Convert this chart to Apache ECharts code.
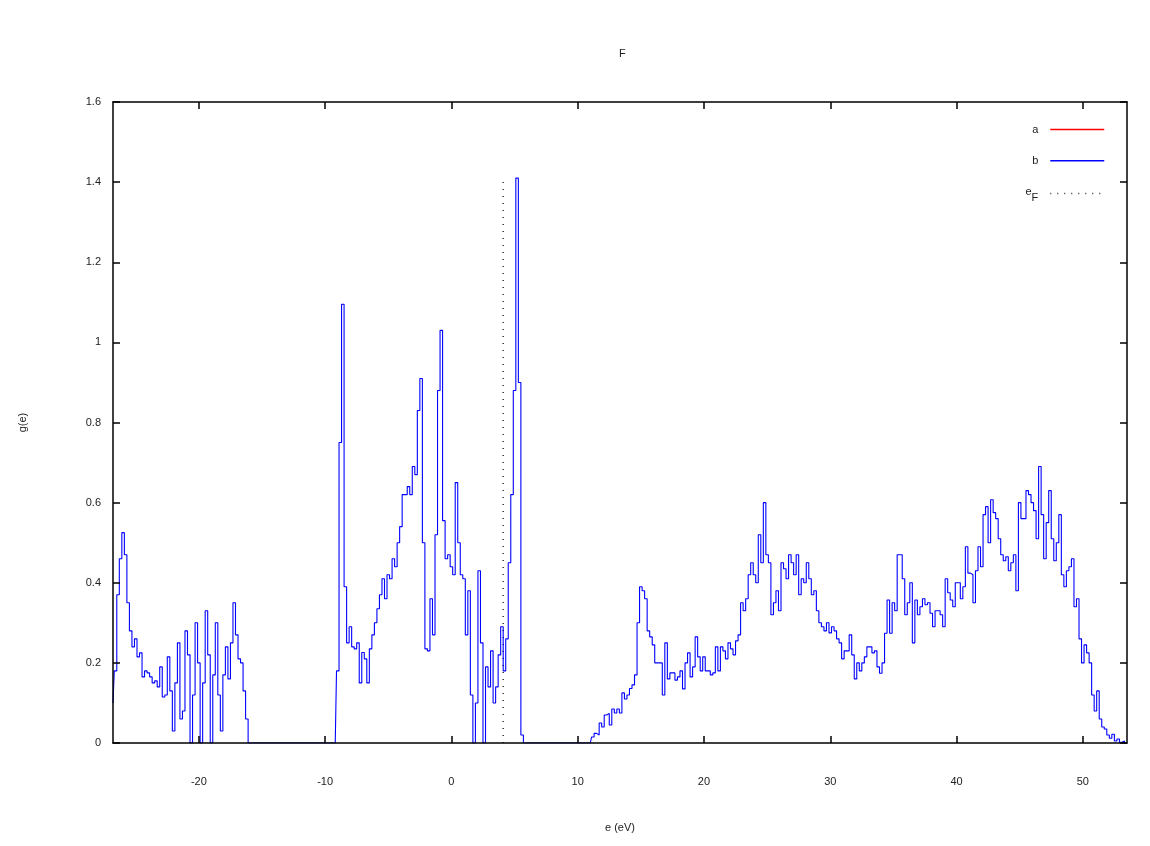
<!DOCTYPE html>
<html>
<head>
<meta charset="utf-8">
<script src="https://cdn.jsdelivr.net/npm/echarts@6/dist/echarts.min.js"></script>
<style>
  html, body { margin: 0; padding: 0; background: #fff; }
  #chart { width: 1150px; height: 846px; }
</style>
</head>
<body>
<div id="chart"></div>
<script>
// ---- data ----
const eStep = 0.2;               // energy grid step (eV)
const band1Start = -26.8;        // lowest band
const band1 = [0.10,0.18,0.37,0.46,0.525,0.47,0.35,0.28,0.24,0.26,
  0.215,0.225,0.165,0.18,0.175,0.165,0.15,0.155,0.14,0.19,
  0.115,0.12,0.215,0.13,0.03,0.15,0.25,0.06,0.08,0.28,
  0.22,0.0,0.12,0.30,0.20,0.0,0.15,0.33,0.22,0.0,
  0.17,0.30,0.12,0.03,0.17,0.24,0.16,0.25,0.35,0.27,
  0.21,0.20,0.13,0.06,0.0];
const band2Start = -9.2;         // valence band
const band2 = [0.0,0.18,0.75,1.095,0.39,0.25,0.29,0.24,0.235,0.25,
  0.15,0.226,0.21,0.15,0.235,0.27,0.30,0.335,0.37,0.41,
  0.36,0.42,0.41,0.46,0.44,0.50,0.54,0.62,0.62,0.64,
  0.62,0.69,0.67,0.83,0.91,0.50,0.235,0.23,0.36,0.27,
  0.52,0.88,1.03,0.555,0.46,0.47,0.44,0.42,0.65,0.50,
  0.42,0.41,0.27,0.38,0.12,0.0,0.10,0.43,0.25,0.0,
  0.19,0.14,0.23,0.10,0.14,0.22,0.29,0.18,0.26,0.45,
  0.62,0.88,1.41,0.90,0.02,0.0];
const band3Start = 10.8;         // conduction band
const band3 = [0.0,0.0,0.015,0.024,0.02,0.05,0.04,0.07,0.074,0.045,
  0.085,0.075,0.085,0.075,0.125,0.11,0.12,0.136,0.145,0.17,
  0.30,0.39,0.38,0.36,0.28,0.265,0.245,0.20,0.20,0.20,
  0.12,0.25,0.16,0.175,0.175,0.157,0.165,0.18,0.135,0.20,
  0.225,0.165,0.19,0.265,0.215,0.18,0.215,0.18,0.18,0.17,
  0.175,0.24,0.18,0.24,0.23,0.21,0.25,0.235,0.22,0.255,
  0.27,0.35,0.33,0.36,0.42,0.45,0.42,0.40,0.52,0.45,
  0.60,0.47,0.45,0.32,0.35,0.38,0.33,0.45,0.435,0.41,
  0.47,0.45,0.42,0.47,0.37,0.41,0.40,0.45,0.41,0.37,
  0.38,0.33,0.30,0.29,0.28,0.30,0.275,0.29,0.28,0.26,
  0.25,0.21,0.23,0.23,0.27,0.22,0.16,0.20,0.18,0.20,
  0.215,0.24,0.24,0.225,0.23,0.19,0.174,0.20,0.274,0.357,
  0.274,0.35,0.33,0.47,0.47,0.41,0.32,0.35,0.40,0.25,
  0.357,0.32,0.34,0.36,0.345,0.35,0.324,0.29,0.33,0.33,
  0.32,0.29,0.41,0.375,0.357,0.34,0.40,0.40,0.36,0.39,
  0.49,0.424,0.42,0.35,0.43,0.49,0.44,0.57,0.59,0.50,
  0.607,0.575,0.56,0.51,0.47,0.455,0.465,0.43,0.45,0.47,
  0.38,0.60,0.56,0.56,0.63,0.62,0.60,0.58,0.51,0.69,
  0.57,0.46,0.55,0.63,0.51,0.455,0.50,0.57,0.42,0.39,
  0.43,0.44,0.46,0.34,0.36,0.26,0.20,0.245,0.225,0.20,
  0.12,0.08,0.13,0.06,0.04,0.035,0.02,0.012,0.022,0.005,
  0.01,0.002,0.005,0.0];
const eFermi = 4.1;              // Fermi level (eV)
const fermiTop = 1.41;           // height of dotted e_F line
const xMin = -26.8, xMax = 53.5;
const xTicks = [-20, -10, 0, 10, 20, 30, 40, 50];
const yMin = 0, yMax = 1.6, yStep = 0.2;
const colA = '#ff0000', colB = '#0000ff', colF = '#333333';

// ---- build points ----
function bandPoints(start, vals) {
  return vals.map((g, i) => [Math.round((start + i * eStep) * 10) / 10, g]);
}
const dosB = [].concat(bandPoints(band1Start, band1), bandPoints(band2Start, band2), bandPoints(band3Start, band3));
const dosA = dosB; // series a coincides with b in the picture (fully hidden beneath it)

const txt = { fontFamily: 'Liberation Sans, Arial, sans-serif', fontSize: 11, color: '#222' };

const chart = echarts.init(document.getElementById('chart'));
chart.setOption({
  animation: false,
  backgroundColor: '#fff',
  title: {
    text: 'F', left: 614, top: 43,
    textStyle: Object.assign({}, txt, { fontWeight: 'normal' })
  },
  legend: {
    orient: 'vertical', right: 40, top: 119,
    itemWidth: 54, itemHeight: 14, itemGap: 20, align: 'right',
    itemStyle: { opacity: 0 },
    data: [
      { name: 'a', lineStyle: { color: colA, width: 1.5, opacity: 1 }, itemStyle: { opacity: 0 } },
      { name: 'b', lineStyle: { color: colB, width: 1.5, opacity: 1 }, itemStyle: { opacity: 0 } },
      { name: 'eF', lineStyle: { color: colF, width: 1.5, type: [1, 6], opacity: 1 }, itemStyle: { opacity: 0 } }
    ],
    formatter: n => n === 'eF' ? '{e|e}{s|F}' : n,
    textStyle: Object.assign({}, txt, {
      padding: [0, 7, 0, 0],
      rich: {
        e: { fontFamily: txt.fontFamily, fontSize: 11, color: '#222', padding: [0, 0, 3, 0] },
        s: { fontFamily: txt.fontFamily, fontSize: 11, color: '#222', padding: [10, 0, 0, 0] }
      }
    })
  },
  grid: { left: 113, right: 23, top: 102, bottom: 103, containLabel: false },
  xAxis: [{
    type: 'value', min: xMin, max: xMax, position: 'bottom', z: 10,
    name: 'e (eV)', nameLocation: 'middle', nameGap: 79, nameTextStyle: txt,
    axisLine: { show: true, onZero: false, lineStyle: { color: '#000', width: 1.5 } },
    axisTick: { inside: true, length: 7, customValues: xTicks, lineStyle: { color: '#000', width: 1.5 } },
    axisLabel: Object.assign({ customValues: xTicks, margin: 33 }, txt),
    splitLine: { show: false }
  }, {
    type: 'value', min: xMin, max: xMax, position: 'top', z: 10,
    axisLine: { show: true, onZero: false, lineStyle: { color: '#000', width: 1.5 } },
    axisTick: { inside: true, length: 7, customValues: xTicks, lineStyle: { color: '#000', width: 1.5 } },
    axisLabel: { show: false },
    splitLine: { show: false }
  }],
  yAxis: [{
    type: 'value', min: yMin, max: yMax, interval: yStep, position: 'left', z: 10,
    name: 'g(e)', nameLocation: 'middle', nameGap: 85, nameRotate: 90, nameTextStyle: txt,
    axisLine: { show: true, onZero: false, lineStyle: { color: '#000', width: 1.5 } },
    axisTick: { inside: true, length: 7, lineStyle: { color: '#000', width: 1.5 } },
    axisLabel: Object.assign({ margin: 12 }, txt),
    splitLine: { show: false }
  }, {
    type: 'value', min: yMin, max: yMax, interval: yStep, position: 'right', z: 10,
    axisLine: { show: true, onZero: false, lineStyle: { color: '#000', width: 1.5 } },
    axisTick: { inside: true, length: 7, lineStyle: { color: '#000', width: 1.5 } },
    axisLabel: { show: false },
    splitLine: { show: false }
  }],
  series: [{
    name: 'a', type: 'line', data: dosA, step: 'middle', symbol: 'none', showSymbol: false,
    lineStyle: { color: colA, width: 1, opacity: 0 }, itemStyle: { color: colA }, z: 2
  }, {
    name: 'b', type: 'line', data: dosB, step: 'middle', symbol: 'none', showSymbol: false,
    lineStyle: { color: colB, width: 1.1 }, itemStyle: { color: colB }, z: 3
  }, {
    name: 'eF', type: 'line', data: [[eFermi, 0], [eFermi, fermiTop]], symbol: 'none', showSymbol: false,
    lineStyle: { color: colF, width: 1.5, type: [1, 6] }, itemStyle: { color: colF }, z: 1
  }]
});
</script>
</body>
</html>
